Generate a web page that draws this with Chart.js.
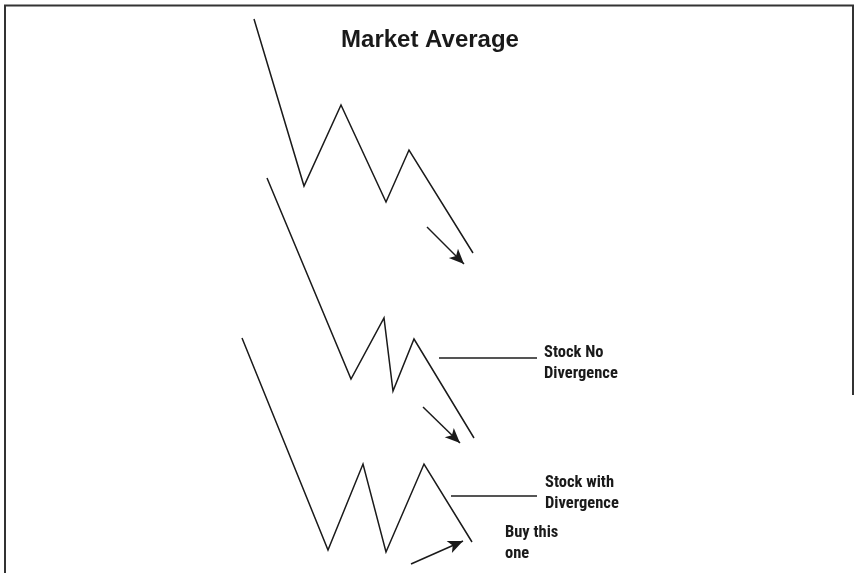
<!DOCTYPE html>
<html>
<head>
<meta charset="utf-8">
<script src="https://cdn.jsdelivr.net/npm/chart.js@4"></script>
<style>
    body { margin: 0; background: #ffffff; }
    #wrap { width: 854px; height: 573px; }
</style>
</head>
<body>
<div id="wrap"><canvas id="divergenceChart" width="854" height="573"></canvas></div>
<script>
// schematic coordinates (x to the right, y downwards)
const marketX = [254, 304, 341, 386, 409, 473];
const marketY = [19, 186, 105, 202, 150, 253];

const noDivX = [267, 351, 384, 393, 414, 474];
const noDivY = [178, 379, 318, 391, 339, 438];

const withDivX = [242, 328, 363, 386, 424, 472];
const withDivY = [338, 550, 464, 552, 464, 542];

// arrows: [startX, startY, tipX, tipY]
const arrowMarket = [427, 227, 464, 264];
const arrowNoDiv = [423, 407, 460, 443];
const arrowBuy = [411, 564, 463, 541];

// leader lines next to the labels
const leaderNoDiv = [439, 537, 358];
const leaderWithDiv = [451, 537, 496];

const titleText = 'Market Average';
const labelTexts = [['Stock No', 'Divergence'], ['Stock with', 'Divergence'], ['Buy this', 'one']];
const labelX = [544, 545, 505];
const labelY = [357, 487, 537];

function toPoints(xs, ys) {
    return xs.map((x, i) => ({ x: x, y: ys[i] }));
}

function lineSet(points, color, width, isArrow) {
    return {
        data: points,
        showLine: true,
        borderColor: color,
        borderWidth: width,
        pointRadius: 0,
        tension: 0,
        fill: false,
        isArrow: isArrow
    };
}

const arrowHeads = {
    id: 'arrowHeads',
    afterDatasetsDraw(chart) {
        const ctx = chart.ctx;
        const xs = chart.scales.x;
        const ys = chart.scales.y;
        chart.data.datasets.forEach(ds => {
            if (!ds.isArrow) return;
            const a = ds.data[0];
            const b = ds.data[1];
            const x1 = xs.getPixelForValue(a.x), y1 = ys.getPixelForValue(a.y);
            const x2 = xs.getPixelForValue(b.x), y2 = ys.getPixelForValue(b.y);
            const ang = Math.atan2(y2 - y1, x2 - x1);
            const len = 15, half = 6.5;
            ctx.save();
            ctx.fillStyle = '#1a1a1a';
            ctx.beginPath();
            ctx.moveTo(x2, y2);
            ctx.lineTo(x2 - len * Math.cos(ang) + half * Math.sin(ang), y2 - len * Math.sin(ang) - half * Math.cos(ang));
            ctx.lineTo(x2 - len * 0.75 * Math.cos(ang), y2 - len * 0.75 * Math.sin(ang));
            ctx.lineTo(x2 - len * Math.cos(ang) - half * Math.sin(ang), y2 - len * Math.sin(ang) + half * Math.cos(ang));
            ctx.closePath();
            ctx.fill();
            ctx.restore();
        });
    }
};

const textsAndFrame = {
    id: 'textsAndFrame',
    afterDraw(chart) {
        const ctx = chart.ctx;
        const xs = chart.scales.x;
        const ys = chart.scales.y;
        ctx.save();

        // frame
        ctx.strokeStyle = '#333333';
        ctx.lineWidth = 2;
        ctx.beginPath();
        ctx.moveTo(xs.getPixelForValue(5), ys.getPixelForValue(573));
        ctx.lineTo(xs.getPixelForValue(5), ys.getPixelForValue(5.5));
        ctx.lineTo(xs.getPixelForValue(853), ys.getPixelForValue(5.5));
        ctx.lineTo(xs.getPixelForValue(853), ys.getPixelForValue(395));
        ctx.stroke();

        // title
        ctx.fillStyle = '#1a1a1a';
        ctx.textAlign = 'center';
        ctx.textBaseline = 'alphabetic';
        ctx.font = "bold 24px 'Liberation Sans', Arial, sans-serif";
        ctx.fillText(titleText, xs.getPixelForValue(430), ys.getPixelForValue(47));

        // labels
        ctx.textAlign = 'left';
        ctx.font = "bold 16.5px 'Liberation Sans Narrow', 'Roboto Condensed', 'Liberation Sans', sans-serif";
        labelTexts.forEach((lines, i) => {
            lines.forEach((t, j) => {
                ctx.fillText(t, xs.getPixelForValue(labelX[i]), ys.getPixelForValue(labelY[i] + j * 20.5));
            });
        });
        ctx.restore();
    }
};

const ctx = document.getElementById('divergenceChart').getContext('2d');

new Chart(ctx, {
    type: 'scatter',
    data: {
        datasets: [
            lineSet(toPoints(marketX, marketY), '#1a1a1a', 1.5, false),
            lineSet(toPoints(noDivX, noDivY), '#1a1a1a', 1.5, false),
            lineSet(toPoints(withDivX, withDivY), '#1a1a1a', 1.5, false),
            lineSet([{ x: arrowMarket[0], y: arrowMarket[1] }, { x: arrowMarket[2], y: arrowMarket[3] }], '#1a1a1a', 1.5, true),
            lineSet([{ x: arrowNoDiv[0], y: arrowNoDiv[1] }, { x: arrowNoDiv[2], y: arrowNoDiv[3] }], '#1a1a1a', 1.5, true),
            lineSet([{ x: arrowBuy[0], y: arrowBuy[1] }, { x: arrowBuy[2], y: arrowBuy[3] }], '#1a1a1a', 1.5, true),
            lineSet([{ x: leaderNoDiv[0], y: leaderNoDiv[2] }, { x: leaderNoDiv[1], y: leaderNoDiv[2] }], '#555555', 2, false),
            lineSet([{ x: leaderWithDiv[0], y: leaderWithDiv[2] }, { x: leaderWithDiv[1], y: leaderWithDiv[2] }], '#555555', 2, false)
        ]
    },
    options: {
        responsive: false,
        animation: false,
        layout: { padding: 0 },
        plugins: {
            legend: { display: false },
            tooltip: { enabled: false }
        },
        scales: {
            x: { type: 'linear', min: 0, max: 854, display: false },
            y: { type: 'linear', min: 0, max: 573, reverse: true, display: false }
        }
    },
    plugins: [arrowHeads, textsAndFrame]
});
</script>
</body>
</html>
